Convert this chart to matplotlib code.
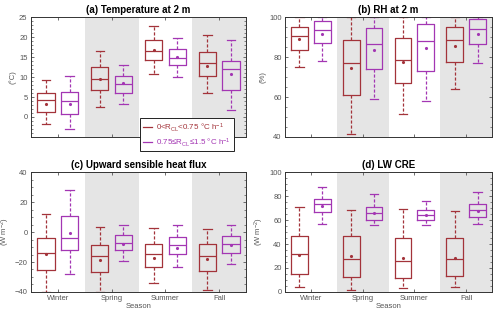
import matplotlib
matplotlib.use('Agg')
import matplotlib.pyplot as plt
from matplotlib.ticker import MultipleLocator
from matplotlib.lines import Line2D

plt.rcParams['font.family'] = ['Liberation Sans', 'DejaVu Sans']
plt.rcParams['mathtext.fontset'] = 'custom'
plt.rcParams['mathtext.rm'] = 'Liberation Sans'
plt.rcParams['mathtext.it'] = 'Liberation Sans:italic'

seasons = ['Winter', 'Spring', 'Summer', 'Fall']

# per season: [lower whisker, Q1, median, Q3, upper whisker, mean]
temp_low = [[-1.75, 1.3, 4.3, 6.0, 9.3, 3.3],
            [2.4, 6.7, 9.6, 12.4, 16.6, 9.6],
            [10.75, 14.2, 16.6, 19.2, 22.75, 16.8],
            [6.1, 10.25, 13.5, 16.25, 20.4, 12.8]]
temp_high = [[-3.0, 0.8, 4.1, 6.3, 10.2, 3.3],
             [3.2, 6.0, 8.3, 10.2, 12.9, 8.4],
             [10.0, 13.0, 14.75, 16.9, 19.7, 14.9],
             [1.7, 6.8, 12.0, 14.0, 19.25, 10.75]]

rh_low = [[74.9, 83.3, 90.6, 95.2, 100, 89.0],
          [41.6, 61.0, 76.9, 88.6, 100, 74.6],
          [51.3, 67.2, 78.4, 89.3, 100, 77.6],
          [64.2, 77.4, 88.3, 95.3, 100, 85.5]]
rh_high = [[78.1, 86.8, 93.8, 98.3, 100, 91.5],
           [59.2, 74.1, 86.5, 94.8, 100, 83.4],
           [57.9, 73.2, 88.0, 96.5, 100, 84.4],
           [77.1, 86.3, 94.3, 99.3, 100, 91.3]]

shf_low = [[-40, -25.3, -13.9, -3.9, 11.8, -14.4],
           [-40, -27.0, -16.1, -8.8, 3.5, -18.8],
           [-34.2, -23.3, -14.6, -7.7, 2.8, -17.3],
           [-38.5, -26.2, -16.1, -8.1, 2.3, -17.7]]
shf_high = [[-28.2, -12.1, -3.9, 11.0, 27.9, -0.5],
            [-19.3, -12.1, -7.0, -2.1, 5.0, -8.1],
            [-23.5, -14.8, -8.8, -3.2, 4.6, -10.4],
            [-21.5, -13.7, -8.1, -2.8, 5.0, -8.6]]

lw_low = [[4.2, 15.0, 31.8, 46.5, 70.8, 30.9],
          [1.7, 12.5, 27.9, 46.5, 68.8, 29.8],
          [3.1, 11.7, 25.9, 44.8, 69.1, 28.1],
          [4.2, 13.4, 27.3, 44.8, 67.4, 28.1]]
lw_high = [[57.1, 66.9, 73.3, 77.4, 87.5, 72.1],
           [56.0, 60.4, 65.7, 71.3, 81.9, 66.3],
           [56.0, 60.4, 64.1, 68.2, 75.8, 64.3],
           [56.5, 62.4, 68.0, 73.0, 83.8, 67.7]]

labels = ['0<R$_{\\rm CL}$<0.75 °C h$^{-1}$', '0.75≤R$_{\\rm CL}$≤1.5 °C h$^{-1}$']
c_low = '#a3333a'
c_high = '#a336b3'
txt = '#555555'

panels = [
    ('(a) Temperature at 2 m', '(°C)', temp_low, temp_high, (-5, 25), 5, 1),
    ('(b) RH at 2 m', '(%)', rh_low, rh_high, (40, 100), 20, 5),
    ('(c) Upward sensible heat flux', '(W m$^{-2}$)', shf_low, shf_high, (-40, 40), 20, 5),
    ('(d) LW CRE', '(W m$^{-2}$)', lw_low, lw_high, (0, 100), 20, 5),
]
rects = [[0.062, 0.568, 0.43, 0.378], [0.57, 0.568, 0.414, 0.378],
         [0.062, 0.079, 0.43, 0.378], [0.57, 0.079, 0.414, 0.378]]


def make_stats(rows):
    return [dict(whislo=r[0], q1=r[1], med=r[2], q3=r[3], whishi=r[4], mean=r[5])
            for r in rows]


def draw(ax, rows, pos, color):
    ax.bxp(make_stats(rows), positions=pos, widths=0.32, showmeans=True,
           showfliers=False, manage_ticks=False,
           boxprops=dict(color=color, lw=0.9),
           medianprops=dict(color=color, lw=0.9),
           whiskerprops=dict(color=color, lw=0.9, ls=(0, (2.5, 1.5))),
           capprops=dict(color=color, lw=0.9),
           meanprops=dict(marker='.', markersize=2.5, markerfacecolor=color,
                          markeredgecolor=color))


fig = plt.figure(figsize=(5, 3.17), dpi=100)
x = list(range(1, 5))
for i, (title, ylab, lo, hi, ylim, major, minor) in enumerate(panels):
    ax = fig.add_axes(rects[i])
    for s in (2, 4):
        ax.axvspan(s - 0.5, s + 0.5, color='#e5e5e5', lw=0, zorder=0)
    draw(ax, lo, [p - 0.22 for p in x], c_low)
    draw(ax, hi, [p + 0.22 for p in x], c_high)
    ax.set_xlim(0.5, 4.5)
    ax.set_ylim(*ylim)
    ax.yaxis.set_major_locator(MultipleLocator(major))
    ax.yaxis.set_minor_locator(MultipleLocator(minor))
    ax.set_xticks(x)
    if i >= 2:
        ax.set_xticklabels(seasons)
        ax.set_xlabel('Season', fontsize=5.5, color=txt, labelpad=0.5)
    else:
        ax.set_xticklabels([])
    if i == 0:
        ax.set_yticks([0, 5, 10, 15, 20, 25])
    ax.tick_params(direction='in', top=True, right=True, labelsize=5.5,
                   colors=txt, length=2.5, width=0.6, pad=2.5)
    ax.tick_params(which='minor', direction='in', right=True, length=1.3, width=0.5,
                   colors=txt)
    for sp in ax.spines.values():
        sp.set_color('#333333')
        sp.set_linewidth(0.7)
    ax.set_ylabel(ylab, fontsize=5.5, color=txt, labelpad=2)
    ax.set_title(title, fontsize=7, fontweight='bold', pad=3)
    if i == 0:
        handles = [Line2D([], [], color=c_low, lw=0.9), Line2D([], [], color=c_high, lw=0.9)]
        leg = ax.legend(handles, labels, loc='lower right', bbox_to_anchor=(0.944, -0.12),
                        borderaxespad=0, fontsize=5.8, handlelength=1.2, handletextpad=0.5,
                        fancybox=False, framealpha=1, borderpad=0.35, labelspacing=0.3)
        leg.get_frame().set_edgecolor('#222222')
        leg.get_frame().set_linewidth(0.7)
        for t, c in zip(leg.get_texts(), (c_low, c_high)):
            t.set_color(c)
        leg.set_zorder(10)

fig.savefig('out.png', dpi=100)
